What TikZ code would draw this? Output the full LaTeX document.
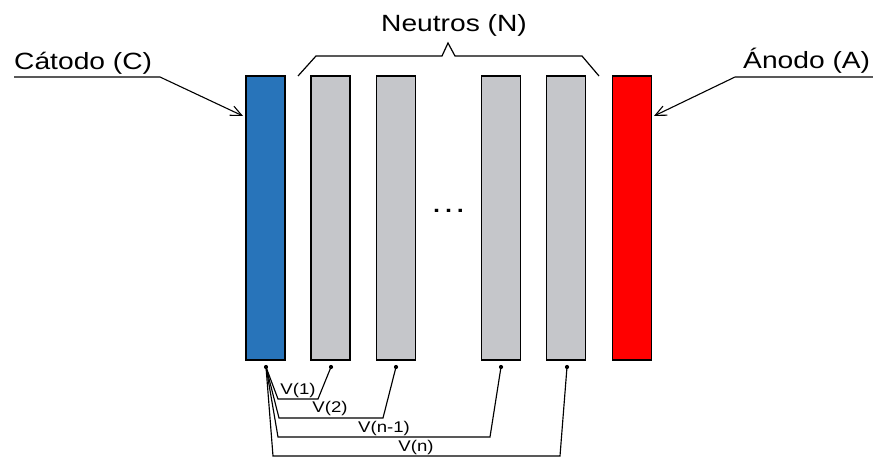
\documentclass[tikz,border=0pt]{standalone}
\usepackage{fontspec}
\setmainfont{Liberation Sans}[FakeStretch=1.2]
\usetikzlibrary{arrows.meta}
\definecolor{cathblue}{RGB}{40,116,186}
\definecolor{plategray}{RGB}{197,198,202}
\definecolor{anodered}{RGB}{255,0,0}
\tikzset{
  plate/.style={draw=black, line width=1.6pt, inner sep=0pt, outer sep=0pt,
    minimum width=39pt, minimum height=284pt},
  bigtext/.style={font=\fontsize{23.5pt}{26pt}\selectfont, inner sep=0pt},
  smalltext/.style={font=\fontsize{15.5pt}{18pt}\selectfont, inner sep=0pt},
  wire/.style={line width=1.15pt},
  leader/.style={line width=1.1pt, -{Straight Barb[length=11pt,width=10pt]}},
  tdot/.style={fill=black, draw=none},
}
\begin{document}
\begin{tikzpicture}[x=1pt,y=-1pt]
\useasboundingbox (0,0) rectangle (873,457);

% electrodes
\node[plate, fill=cathblue]  (C)  at (265.5,218) {};
\node[plate, fill=plategray] (N1) at (330.5,218) {};
\node[plate, fill=plategray] (N2) at (396,218) {};
\node[plate, fill=plategray] (N3) at (501,218) {};
\node[plate, fill=plategray] (N4) at (566,218) {};
\node[plate, fill=anodered]  (A)  at (632,218) {};

% ellipsis between the neutral plates
\node[font=\fontsize{30pt}{32pt}\selectfont, inner sep=0pt] (dots) at (448.5,211) {.\hspace{1.8pt}.\hspace{1.8pt}.};

% brace over the neutral plates
\coordinate (b0) at (298,76);
\coordinate (b1) at (316,56);
\coordinate (b2) at (442,56);
\coordinate (bp) at (448,43);
\coordinate (b3) at (455,56);
\coordinate (b4) at (582,56);
\coordinate (b5) at (599,76);
\draw[line width=1.2pt, line join=miter] (b0) -- (b1) -- (b2) -- (bp) -- (b3) -- (b4) -- (b5);
\node[bigtext, anchor=base] (nlab) at (454,32) {Neutros (N)};

% cathode label and leader
\node[bigtext, anchor=base west] (clab) at (14,70) {Cátodo (C)};
\coordinate (cl0) at (14,77);
\coordinate (cl1) at (160,77);
\coordinate (cl2) at (243,116);
\draw[leader] (cl0) -- (cl1) -- (cl2);

% anode label and leader
\node[bigtext, anchor=base west] (alab) at (743,69) {Ánodo (A)};
\coordinate (al0) at (873,77);
\coordinate (al1) at (735,77);
\coordinate (al2) at (654,116);
\draw[leader] (al0) -- (al1) -- (al2);

% terminals
\coordinate (t0) at (266,367);
\coordinate (t1) at (331,367);
\coordinate (t2) at (396,367);
\coordinate (t3) at (501,367);
\coordinate (t4) at (567,367);
\foreach \t in {t0,t1,t2,t3,t4} \fill[tdot] (\t) circle (2.1pt);

% voltage wiring
\coordinate (v1a) at (278,399);
\coordinate (v1b) at (318,399);
\coordinate (v2a) at (279,418);
\coordinate (v2b) at (383,418);
\coordinate (v3a) at (278,437);
\coordinate (v3b) at (490,437);
\coordinate (v4a) at (273,456);
\coordinate (v4b) at (560,456);
\draw[wire] (t0) -- (v1a) -- (v1b) -- (t1);
\draw[wire] (t0) -- (v2a) -- (v2b) -- (t2);
\draw[wire] (t0) -- (v3a) -- (v3b) -- (t3);
\draw[wire] (t0) -- (v4a) -- (v4b) -- (t4);

\node[smalltext] (lv1) at (298,390) {V(1)};
\node[smalltext] (lv2) at (330,408.5) {V(2)};
\node[smalltext] (lv3) at (384,428) {V(n-1)};
\node[smalltext] (lv4) at (416,447) {V(n)};
\end{tikzpicture}
\end{document}
